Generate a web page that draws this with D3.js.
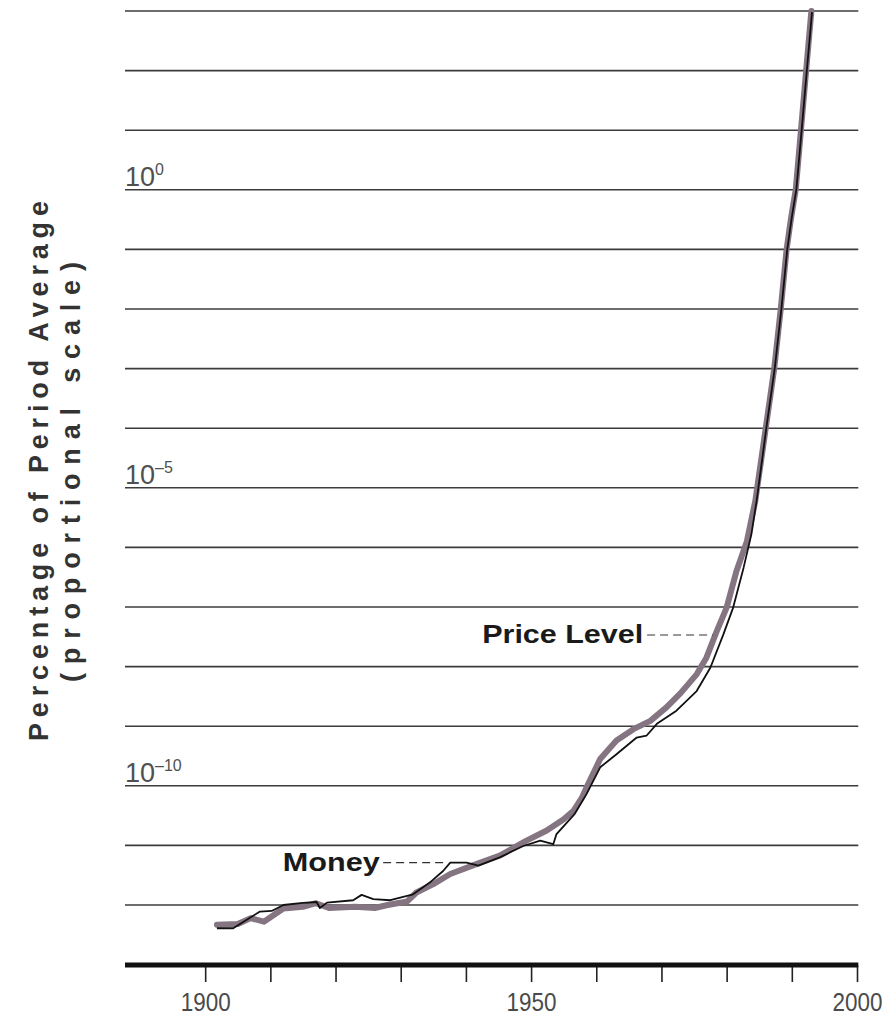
<!DOCTYPE html>
<html>
<head>
<meta charset="utf-8">
<script src="https://cdn.jsdelivr.net/npm/d3@7"></script>
<style>
  body { margin: 0; background: #fff; }
  svg { display: block; font-family: "Liberation Sans", Arial, sans-serif; }
</style>
</head>
<body>
<div id="chart"></div>
<script>
// Money stock, log10 of percentage of period average
const moneyYears = [1901.8, 1904.3, 1908.4, 1910.2, 1912.0, 1914.6, 1917.1, 1917.6, 1918.7, 1922.7,
  1924.0, 1925.8, 1928.4, 1931.9, 1934.5, 1936.5, 1937.6, 1940.1, 1941.9, 1945.2,
  1948.8, 1951.4, 1953.4, 1953.9, 1956.7, 1958.5, 1960.6, 1963.1, 1966.2, 1967.7,
  1969.3, 1972.3, 1975.4, 1977.5, 1979.5, 1981.0, 1982.6, 1983.8, 1984.6, 1986.1,
  1987.4, 1988.4, 1989.3, 1990.0, 1990.7, 1991.5, 1992.3, 1993.1];
const moneyLog = [-12.39, -12.39, -12.11, -12.10, -12.00, -11.97, -11.95, -12.05, -11.96, -11.92,
  -11.83, -11.90, -11.92, -11.82, -11.62, -11.43, -11.29, -11.29, -11.34, -11.20,
  -11.01, -10.92, -10.98, -10.81, -10.47, -10.14, -9.69, -9.47, -9.19, -9.16,
  -8.96, -8.74, -8.41, -8.02, -7.46, -7.01, -6.34, -5.78, -5.22, -3.99,
  -2.98, -2.00, -1.00, -0.46, 0.01, 0.99, 2.00, 2.98];

// Price level, log10 of percentage of period average
const priceYears = [1901.8, 1905.0, 1907.0, 1909.0, 1912.0, 1915.0, 1917.0, 1919.0, 1923.0, 1926.0,
  1928.0, 1931.0, 1932.4, 1935.0, 1937.6, 1941.7, 1945.2, 1949.3, 1952.4, 1955.0,
  1956.5, 1957.8, 1958.5, 1960.6, 1963.1, 1965.7, 1968.3, 1970.8, 1972.9, 1975.4,
  1976.9, 1978.5, 1980.0, 1981.5, 1983.1, 1984.4, 1986.0, 1987.3, 1988.3, 1989.2,
  1989.9, 1990.6, 1991.4, 1992.2, 1993.0];
const priceLog = [-12.33, -12.32, -12.22, -12.28, -12.06, -12.03, -11.97, -12.05, -12.03, -12.05,
  -12.00, -11.94, -11.79, -11.65, -11.48, -11.31, -11.17, -10.92, -10.75, -10.56,
  -10.42, -10.20, -10.03, -9.55, -9.24, -9.05, -8.91, -8.68, -8.45, -8.13,
  -7.85, -7.40, -7.01, -6.40, -5.90, -5.22, -4.00, -3.00, -2.00, -1.00,
  -0.46, 0.00, 1.00, 2.00, 3.00];

const xTickYears = [1900, 1910, 1920, 1930, 1940, 1950, 1960, 1970, 1980, 1990, 2000];
const xLabelYears = [1900, 1950, 2000];
const gridExponents = d3.range(-12, 4);   // one line per decade
const yLabelExponents = [0, -5, -10];

// series labels: where the text ends, and where the dashed leader meets the line
const seriesLabels = [
  { name: "Money", textEnd: 1926.8, lineFrom: 1927.3, lineTo: 1936.8, log: -11.29 },
  { name: "Price Level", textEnd: 1967.2, lineFrom: 1967.8, lineTo: 1977.9, log: -7.47 }
];

const width = 894, height = 1024;

const svg = d3.select("#chart").append("svg")
  .attr("width", width)
  .attr("height", height);

const x = d3.scaleLinear().domain([1887.7, 2000]).range([125, 857]);
const y = d3.scaleLog().domain([1e-12, 1e3]).range([905, 11]);

// horizontal decade lines
svg.append("g")
  .selectAll("line")
  .data(gridExponents)
  .join("line")
  .attr("x1", x(1887.7))
  .attr("x2", x(2000.2))
  .attr("y1", d => y(Math.pow(10, d)))
  .attr("y2", d => y(Math.pow(10, d)))
  .attr("stroke", "#3c3c3c")
  .attr("stroke-width", 1.6);

// y labels written above their line, e.g. 10^-5
const yLab = svg.append("g")
  .selectAll("text")
  .data(yLabelExponents)
  .join("text")
  .attr("x", 125)
  .attr("y", d => y(Math.pow(10, d)) - 4)
  .attr("fill", "#505050")
  .style("font-size", "27px");
yLab.append("tspan").text("10");
yLab.append("tspan")
  .attr("dy", -11)
  .style("font-size", "16px")
  .text(d => d === 0 ? "0" : "\u2013" + Math.abs(d));

// x axis
const xAxis = svg.append("g")
  .attr("transform", `translate(0,${965})`)
  .call(d3.axisBottom(x).tickValues(xTickYears).tickSize(17).tickFormat(d => xLabelYears.includes(d) ? d : ""));
xAxis.select(".domain").remove();
xAxis.append("line")
  .attr("x1", x(1887.7)).attr("x2", x(2000.2))
  .attr("stroke", "#111").attr("stroke-width", 5);
xAxis.selectAll(".tick line").attr("stroke", "#222").attr("stroke-width", 1.6);
xAxis.selectAll(".tick text")
  .attr("y", 28)
  .attr("fill", "#4a4a4a")
  .attr("textLength", 50)
  .attr("lengthAdjust", "spacingAndGlyphs")
  .style("font-size", "25px")
  .style("font-family", "'Liberation Sans', Arial, sans-serif");

// y title, two rotated lines
const title = svg.append("g").attr("fill", "#333").style("font-weight", "bold").style("font-size", "27px");
title.append("text")
  .attr("transform", "translate(48,471) rotate(-90)")
  .attr("text-anchor", "middle")
  .attr("textLength", 540)
  .attr("lengthAdjust", "spacing")
  .text("Percentage of Period Average");
title.append("text")
  .attr("transform", "translate(80,472) rotate(-90)")
  .attr("text-anchor", "middle")
  .attr("textLength", 420)
  .attr("lengthAdjust", "spacing")
  .text("(proportional scale)");

// series lines
const line = d3.line()
  .x(d => x(d[0]))
  .y(d => y(Math.pow(10, d[1])));

const priceData = priceYears.map((yr, i) => [yr, priceLog[i]]);
const moneyData = moneyYears.map((yr, i) => [yr, moneyLog[i]]);

svg.append("path")
  .datum(priceData)
  .attr("d", line)
  .attr("fill", "none")
  .attr("stroke", "#857582")
  .attr("stroke-width", 6)
  .attr("stroke-linejoin", "round")
  .attr("stroke-linecap", "round");

svg.append("path")
  .datum(moneyData)
  .attr("d", line)
  .attr("fill", "none")
  .attr("stroke", "#111")
  .attr("stroke-width", 1.8)
  .attr("stroke-linejoin", "round");

// labels with dashed leaders
const lab = svg.append("g")
  .selectAll("g")
  .data(seriesLabels)
  .join("g");
lab.append("line")
  .attr("x1", d => x(d.lineFrom))
  .attr("x2", d => x(d.lineTo))
  .attr("y1", d => y(Math.pow(10, d.log)))
  .attr("y2", d => y(Math.pow(10, d.log)))
  .attr("stroke", "#333")
  .attr("stroke-width", 1.2)
  .attr("stroke-dasharray", "8,5");
lab.append("text")
  .attr("x", d => x(d.textEnd))
  .attr("y", d => y(Math.pow(10, d.log)) + 8)
  .attr("text-anchor", "end")
  .attr("fill", "#1a1a1a")
  .style("font-size", "25px")
  .style("font-weight", "bold")
  .attr("textLength", d => d.name === "Money" ? 97 : 161)
  .attr("lengthAdjust", "spacingAndGlyphs")
  .text(d => d.name);
</script>
</body>
</html>
